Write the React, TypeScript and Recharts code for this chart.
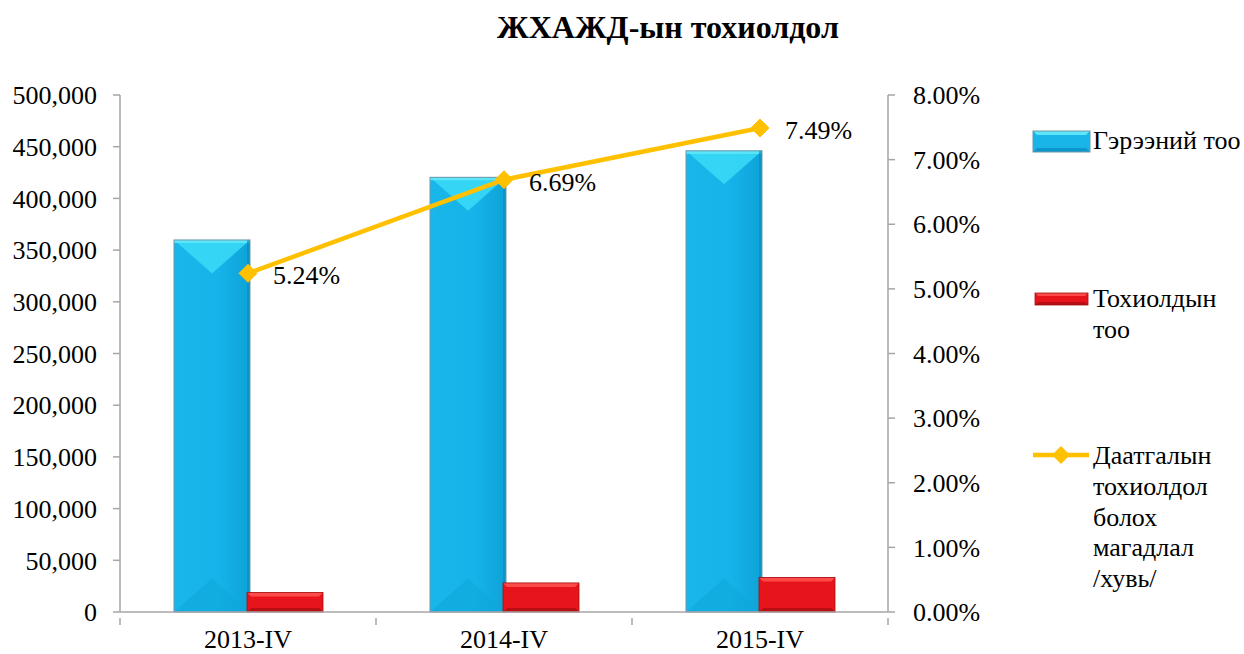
import React from "react";
import {
  ComposedChart,
  Bar,
  Line,
  XAxis,
  YAxis,
  LabelList,
} from "recharts";

const categories = ["2013-IV", "2014-IV", "2015-IV"];
const contracts = [359800, 420400, 446000];
const incidents = [18850, 28120, 33400];
const probability = [0.0524, 0.0669, 0.0749];
const leftTicks = [0, 50000, 100000, 150000, 200000, 250000, 300000, 350000, 400000, 450000, 500000];
const rightTicks = [0, 0.01, 0.02, 0.03, 0.04, 0.05, 0.06, 0.07, 0.08];

const seriesNames = ["Гэрээний тоо", "Тохиолдын тоо", "Даатгалын тохиолдол болох магадлал /хувь/"];
const title = "ЖХАЖД-ын тохиолдол";

const data = categories.map((c, i) => ({
  name: c,
  contracts: contracts[i],
  incidents: incidents[i],
  probability: probability[i],
}));

const FONT = "Liberation Serif, Times New Roman, serif";
const FS = 26;
const AXIS = "#A6A6A6";
const XMARGIN = 12;

const BlueBar = (props: any) => {
  const { x, y, width: w, height: h } = props;
  if (!h || h <= 0) return null;
  const apex = Math.min(w * 0.44, h / 2);
  const b = 3;
  return (
    <g>
      <rect x={x} y={y} width={w} height={h} fill="url(#blueBase)" />
      <polygon points={`${x},${y} ${x + w},${y} ${x + w / 2},${y + apex}`} fill="#38D8F6" opacity={0.9} />
      <polygon points={`${x},${y + h} ${x + w},${y + h} ${x + w / 2},${y + h - apex}`} fill="#0FA6DB" opacity={0.6} />
      <rect x={x} y={y} width={w} height={b} fill="#5BE6FA" />
      <rect x={x + w - b} y={y} width={b} height={h} fill="#0A8CBE" opacity={0.7} />
      <rect x={x} y={y} width={w} height={h} fill="none" stroke="#6F98AA" strokeWidth={1} />
    </g>
  );
};

const RedBar = (props: any) => {
  const { x, y, width: w, height: h } = props;
  if (!h || h <= 0) return null;
  const b = Math.min(4, h / 4);
  return (
    <g>
      <rect x={x} y={y} width={w} height={h} fill="#E8141C" />
      <polygon points={`${x},${y} ${x + w},${y} ${x + w - b},${y + b} ${x + b},${y + b}`} fill="#FF4A4A" />
      <polygon points={`${x},${y + h} ${x + w},${y + h} ${x + w - b},${y + h - b} ${x + b},${y + h - b}`} fill="#B80E14" />
      <rect x={x} y={y} width={w} height={h} fill="none" stroke="#A01010" strokeWidth={0.8} />
    </g>
  );
};

const Diamond = (props: any) => {
  const { cx, cy } = props;
  if (cx == null || cy == null) return null;
  const r = 9;
  return (
    <polygon
      points={`${cx},${cy - r} ${cx + r},${cy} ${cx},${cy + r} ${cx - r},${cy}`}
      fill="#FFC000"
      stroke="#FFC000"
      strokeWidth={1}
    />
  );
};

const PctLabel = (props: any) => {
  const { x, y, value } = props;
  return (
    <text x={x + 25} y={y + 2} dy="0.35em" fontFamily={FONT} fontSize={FS} fill="#000">
      {(value * 100).toFixed(2) + "%"}
    </text>
  );
};

const XTick = (props: any) => {
  const { x, y, payload, index } = props;
  const half = 128;
  return (
    <g>
      <line x1={x - half} y1={y - XMARGIN} x2={x - half} y2={y - XMARGIN + 7} stroke={AXIS} strokeWidth={1.5} />
      {index === categories.length - 1 && (
        <line x1={x + half} y1={y - XMARGIN} x2={x + half} y2={y - XMARGIN + 7} stroke={AXIS} strokeWidth={1.5} />
      )}
      <text x={x} y={y} dy="0.71em" textAnchor="middle" fontFamily={FONT} fontSize={FS} fill="#000">
        {payload.value}
      </text>
    </g>
  );
};

const legendText: React.CSSProperties = {
  position: "absolute",
  fontFamily: FONT,
  fontSize: FS,
  lineHeight: "30.8px",
  color: "#000",
  whiteSpace: "pre",
};

export default function App() {
  return (
    <div style={{ position: "absolute", left: 0, top: 0, width: 1244, height: 654, background: "#fff" }}>
      <div
        style={{
          position: "absolute",
          left: 0,
          width: 1336,
          top: 8,
          textAlign: "center",
          fontFamily: FONT,
          fontWeight: "bold",
          fontSize: 32,
          lineHeight: "38px",
        }}
      >
        {title}
      </div>
      <ComposedChart
        width={1244}
        height={654}
        data={data}
        margin={{ top: 95, right: 0, bottom: 0, left: 0 }}
        barSize={76}
        barGap={-3}
        style={{ position: "absolute", left: 0, top: 0 }}
      >
        <defs>
          <linearGradient id="blueBase" x1="0" y1="0" x2="1" y2="0">
            <stop offset="0" stopColor="#19B6EA" />
            <stop offset="0.6" stopColor="#15B3E9" />
            <stop offset="1" stopColor="#0EA2D8" />
          </linearGradient>
        </defs>
        <XAxis
          dataKey="name"
          height={42}
          tickLine={false}
          tickMargin={XMARGIN}
          axisLine={{ stroke: AXIS, strokeWidth: 1.5 }}
          tick={<XTick />}
          interval={0}
        />
        <YAxis
          yAxisId="left"
          orientation="left"
          width={120}
          domain={[0, 500000]}
          ticks={leftTicks}
          tickSize={7}
          tickMargin={16}
          axisLine={{ stroke: AXIS, strokeWidth: 1.5 }}
          tickLine={{ stroke: AXIS, strokeWidth: 1.5 }}
          tickFormatter={(v: number) => v.toLocaleString("en-US")}
          tick={{ fontFamily: FONT, fontSize: FS, fill: "#000" }}
          interval={0}
        />
        <YAxis
          yAxisId="right"
          orientation="right"
          width={356}
          domain={[0, 0.08]}
          ticks={rightTicks}
          tickSize={7}
          tickMargin={18}
          axisLine={{ stroke: AXIS, strokeWidth: 1.5 }}
          tickLine={{ stroke: AXIS, strokeWidth: 1.5 }}
          tickFormatter={(v: number) => (v * 100).toFixed(2) + "%"}
          tick={{ fontFamily: FONT, fontSize: FS, fill: "#000", textAnchor: "start" }}
          interval={0}
        />
        <Bar yAxisId="left" dataKey="contracts" name={seriesNames[0]} shape={<BlueBar />} isAnimationActive={false} />
        <Bar yAxisId="left" dataKey="incidents" name={seriesNames[1]} shape={<RedBar />} isAnimationActive={false} />
        <Line
          yAxisId="right"
          dataKey="probability"
          name={seriesNames[2]}
          stroke="#FFC000"
          strokeWidth={4.5}
          dot={<Diamond />}
          activeDot={false}
          isAnimationActive={false}
        >
          <LabelList dataKey="probability" content={<PctLabel />} />
        </Line>
      </ComposedChart>

      {/* Legend */}
      <svg style={{ position: "absolute", left: 1030, top: 125, overflow: "visible" }} width={64} height={30}>
        <g transform="translate(3,6)">
          <rect x={0} y={0} width={57} height={21} fill="#19B4E8" />
          <polygon points="0,0 57,0 53,4 4,4" fill="#5BE6FA" />
          <polygon points="0,21 57,21 53,17 4,17" fill="#0C97CC" />
          <rect x={0} y={0} width={57} height={21} fill="none" stroke="#6F98AA" strokeWidth={1} />
        </g>
      </svg>
      <div style={{ ...legendText, left: 1093, top: 126 }}>{"Гэрээний тоо"}</div>

      <svg style={{ position: "absolute", left: 1030, top: 288, overflow: "visible" }} width={64} height={24}>
        <g transform="translate(5,5)">
          <rect x={0} y={0} width={53} height={12} fill="#E8141C" />
          <polygon points="0,0 53,0 50,3 3,3" fill="#FF4A4A" />
          <polygon points="0,12 53,12 50,9 3,9" fill="#B80E14" />
          <rect x={0} y={0} width={53} height={12} fill="none" stroke="#A01010" strokeWidth={0.8} />
        </g>
      </svg>
      <div style={{ ...legendText, left: 1093, top: 284 }}>{"Тохиолдын\nтоо"}</div>

      <svg style={{ position: "absolute", left: 1030, top: 445, overflow: "visible" }} width={64} height={22}>
        <line x1={3} y1={10} x2={59} y2={10} stroke="#FFC000" strokeWidth={4.5} />
        <polygon points="31,1 40,10 31,19 22,10" fill="#FFC000" />
      </svg>
      <div style={{ ...legendText, left: 1093, top: 441 }}>
        {"Даатгалын\nтохиолдол\nболох\nмагадлал\n/хувь/"}
      </div>
    </div>
  );
}
